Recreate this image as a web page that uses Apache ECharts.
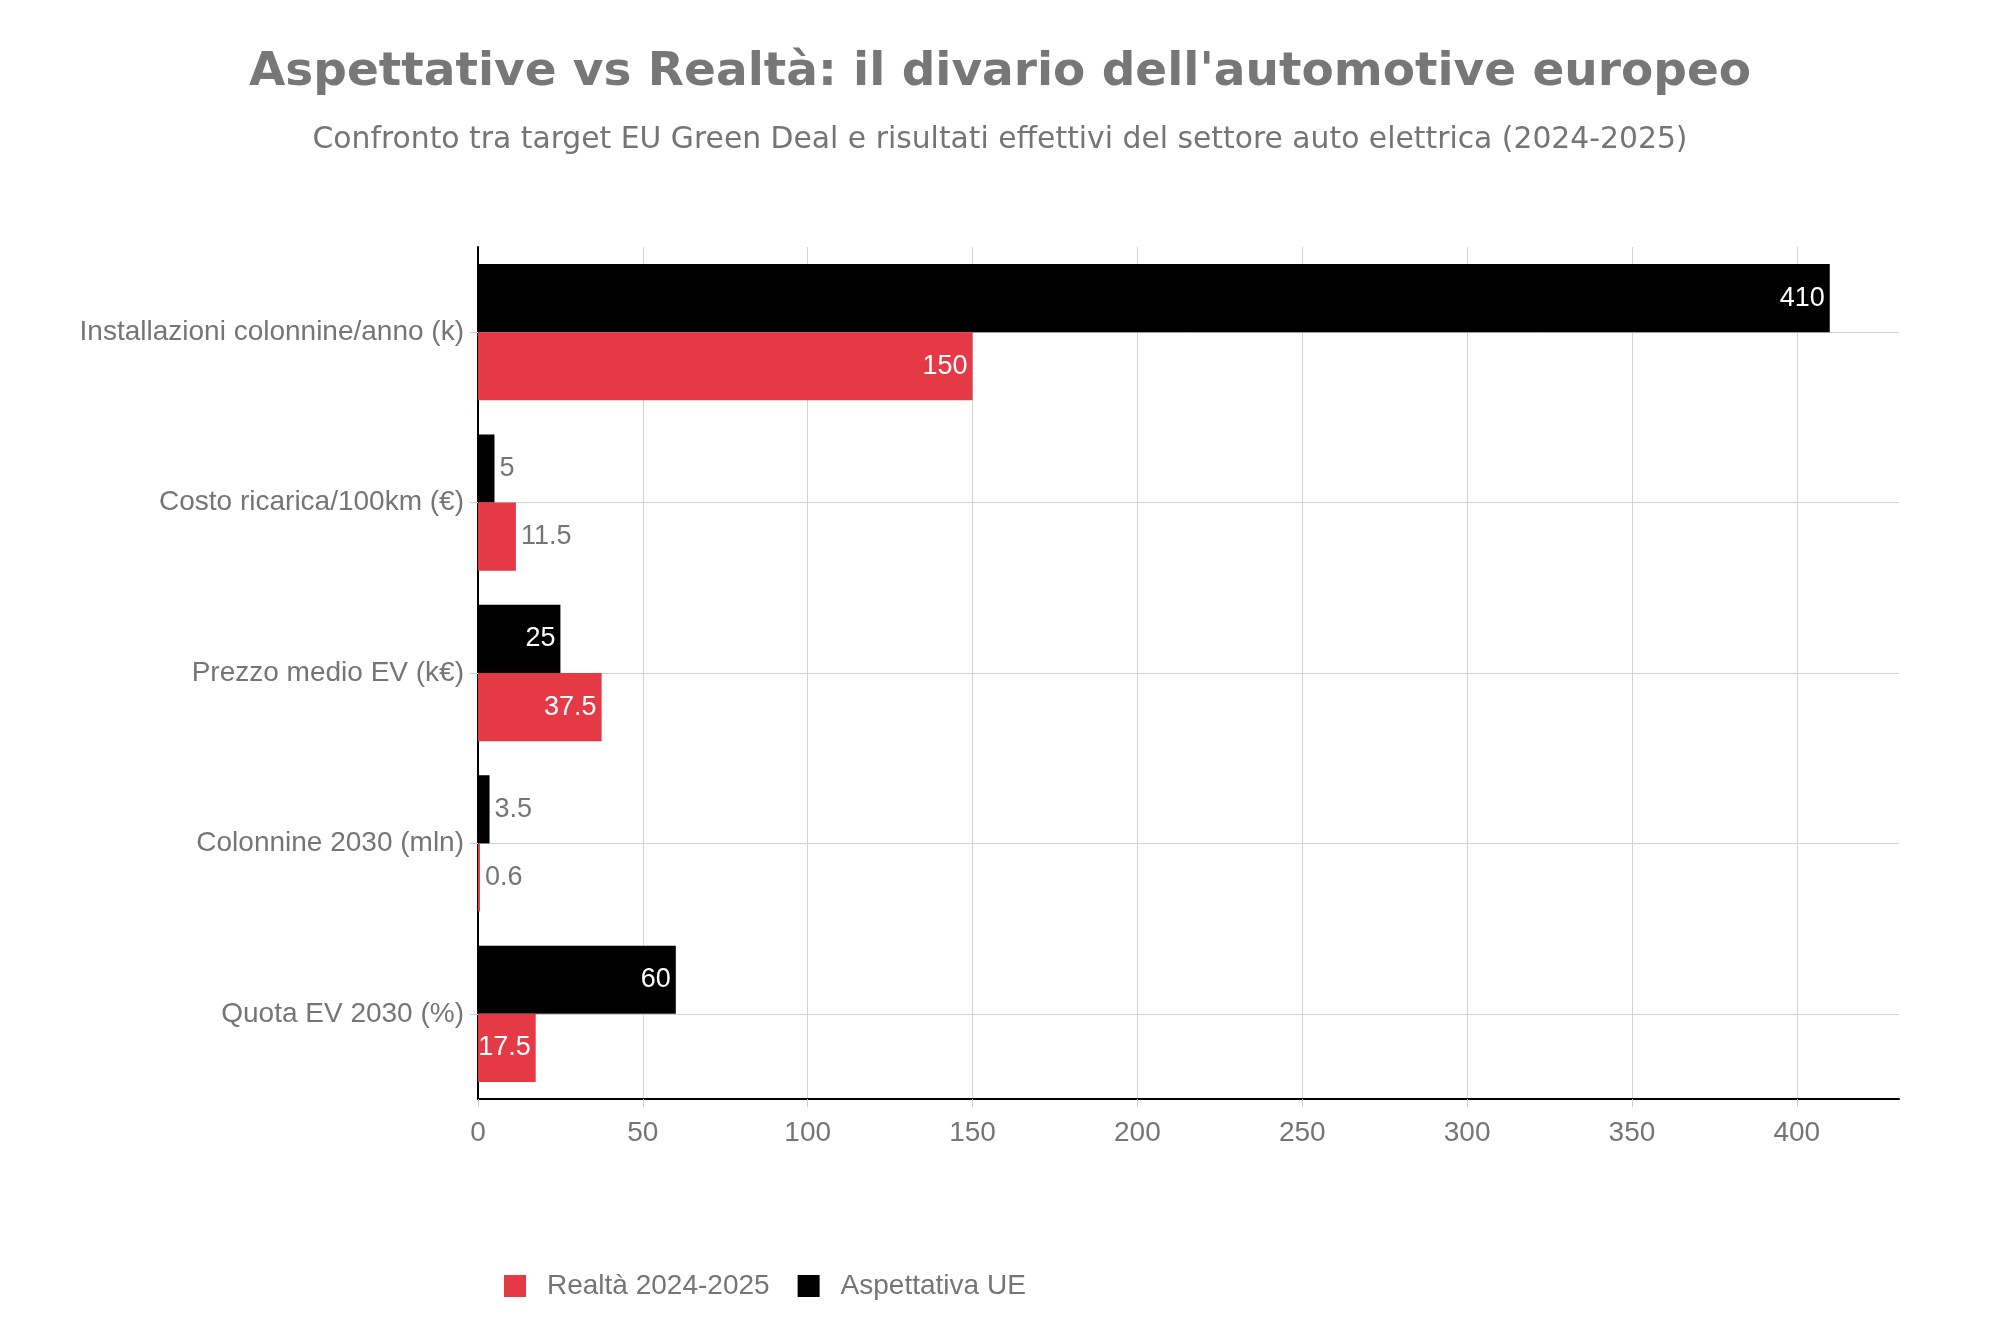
<!DOCTYPE html>
<html>
<head>
<meta charset="utf-8">
<script src="https://cdn.jsdelivr.net/npm/echarts@6/dist/echarts.min.js"></script>
<style>html,body{margin:0;padding:0;background:#fff}#c{width:2000px;height:1333px}</style>
</head>
<body>
<div id="c"></div>
<script>
const categories = ["Installazioni colonnine/anno (k)", "Costo ricarica/100km (€)", "Prezzo medio EV (k€)", "Colonnine 2030 (mln)", "Quota EV 2030 (%)"];
const aspettativa = [410, 5, 25, 3.5, 60];
const realta = [150, 11.5, 37.5, 0.6, 17.5];
const xTicks = [0, 50, 100, 150, 200, 250, 300, 350, 400];

const FONT = "'Liberation Sans', Arial, sans-serif";
const GREY = '#757575';

function withLabels(vals, minInside) {
  return vals.map(v => {
    const inside = v >= minInside;
    return {
      value: v,
      label: inside
        ? {show: true, position: 'insideRight', color: '#fff', distance: 5}
        : {show: true, position: 'right', color: GREY, distance: 5}
    };
  });
}

const chart = echarts.init(document.getElementById('c'));
chart.setOption({
  backgroundColor: '#fff',
  title: [{
    text: "Aspettative vs Realtà: il divario dell'automotive europeo",
    left: 'center', top: 44,
    textStyle: {fontFamily: "'DejaVu Sans', sans-serif", fontWeight: 'bold', fontSize: 47, color: '#777777'}
  }, {
    text: "Confronto tra target EU Green Deal e risultati effettivi del settore auto elettrica (2024-2025)",
    left: 'center', top: 120,
    textStyle: {fontFamily: "'DejaVu Sans', sans-serif", fontWeight: 'normal', fontSize: 29.8, color: GREY}
  }],
  legend: {
    data: ['Realtà 2024-2025', 'Aspettativa UE'],
    left: 499, top: 1267,
    itemWidth: 22, itemHeight: 22, itemGap: 28,
    icon: 'rect',
    textStyle: {fontFamily: FONT, fontSize: 28, color: GREY, padding: [0, 0, 0, 16]}
  },
  grid: {left: 478, right: 101, top: 247, bottom: 234, containLabel: false},
  xAxis: {
    type: 'value', min: 0, max: 431, interval: 50,
    axisLine: {show: true, onZero: false, lineStyle: {color: '#000', width: 2}},
    axisTick: {show: true, length: 8, lineStyle: {color: '#ccc'}},
    axisLabel: {fontFamily: FONT, fontSize: 28, color: GREY, margin: 20, showMaxLabel: false,
      formatter: v => xTicks.includes(v) ? String(v) : ''},
    splitLine: {show: true, showMaxLine: false, lineStyle: {color: '#d3d3d3', width: 1}}
  },
  yAxis: {
    type: 'category', data: categories, inverse: true,
    axisLine: {show: true, lineStyle: {color: '#000', width: 2}},
    axisTick: {show: true, alignWithLabel: true, length: 8, lineStyle: {color: '#ccc'}},
    axisLabel: {fontFamily: FONT, fontSize: 28, color: GREY, margin: 14},
    splitLine: {show: true, alignWithLabel: true, lineStyle: {color: '#d3d3d3', width: 1}}
  },
  series: [{
    name: 'Aspettativa UE', type: 'bar',
    data: withLabels(aspettativa, 15),
    itemStyle: {color: '#000000'},
    barCategoryGap: '20%', barGap: '0%',
    label: {fontFamily: FONT, fontSize: 27},
    z: 2
  }, {
    name: 'Realtà 2024-2025', type: 'bar',
    data: withLabels(realta, 15),
    itemStyle: {color: '#e63946'},
    barCategoryGap: '20%', barGap: '0%',
    label: {fontFamily: FONT, fontSize: 27},
    z: 2
  }]
});
</script>
</body>
</html>
